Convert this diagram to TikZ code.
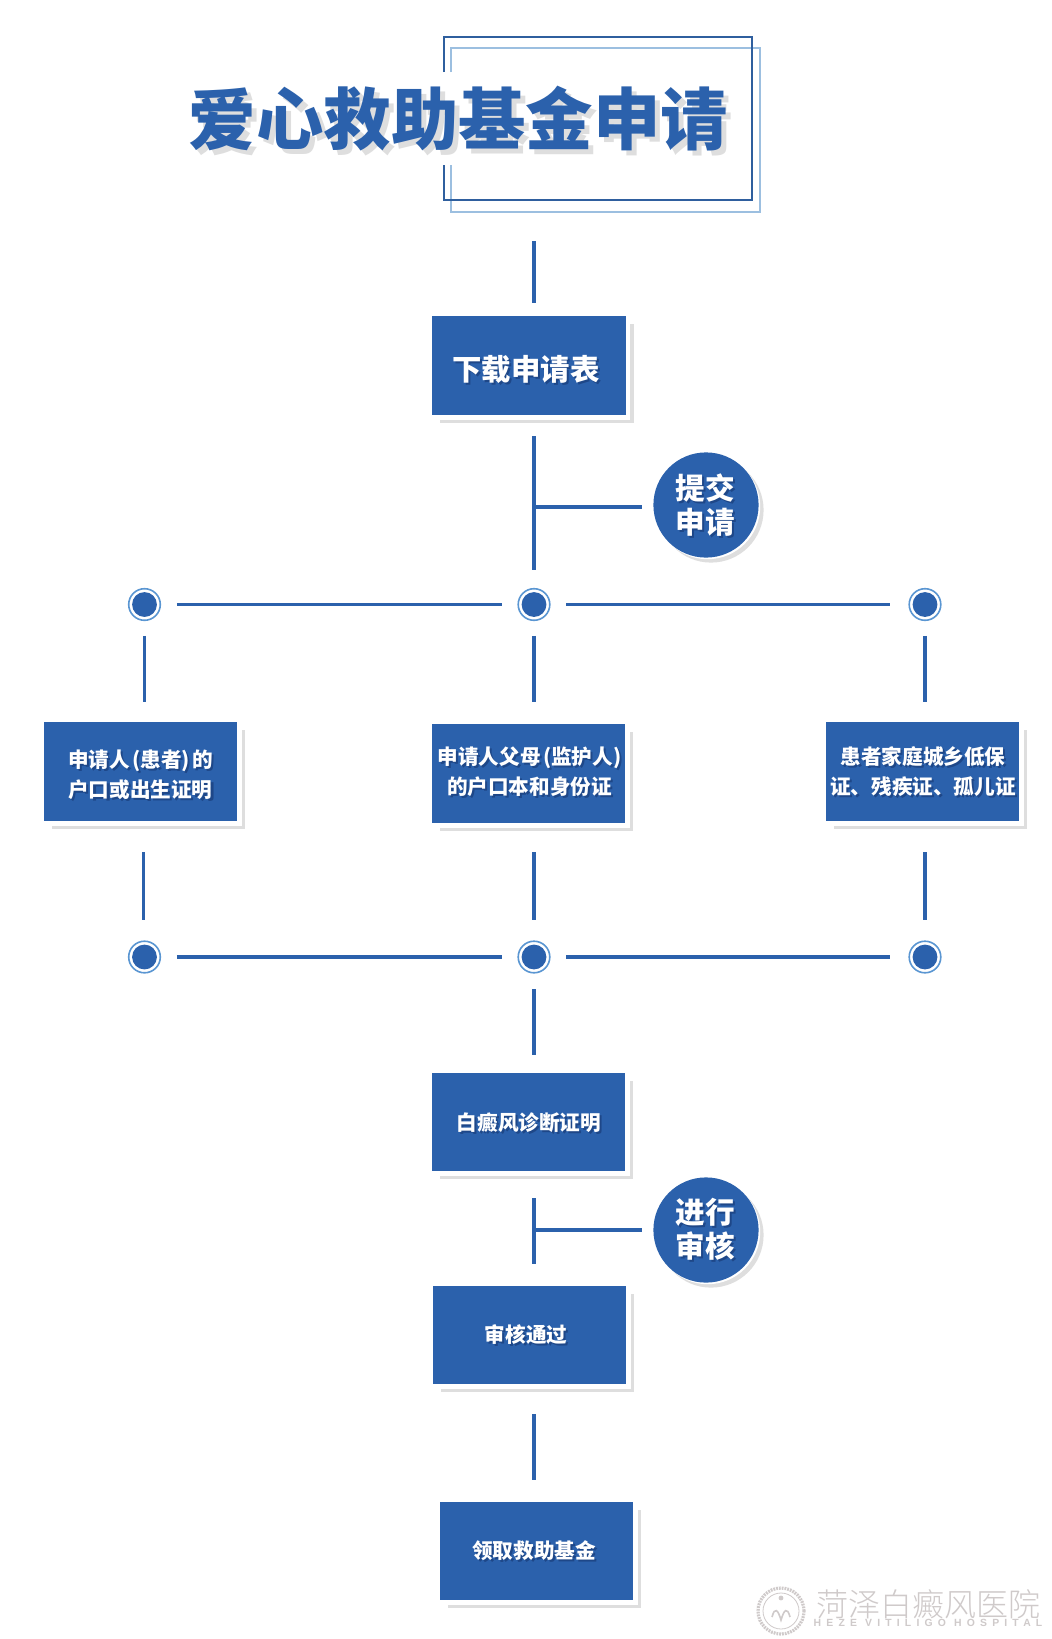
\documentclass[tikz,border=0pt]{standalone}
\usepackage{fontspec}
\newfontfamily\cjk{Noto Sans CJK SC Black}
\newfontfamily\cjkl{Noto Sans CJK SC Light}
\newfontfamily\latn[LetterSpace=50]{Liberation Sans Bold}
\definecolor{mainblue}{HTML}{2B61AC}
\definecolor{darkframe}{HTML}{2F5F9E}
\definecolor{lightframe}{HTML}{9CBFE0}
\definecolor{ringblue}{HTML}{5A96D2}
\definecolor{shadowgray}{HTML}{DEDEDE}
\definecolor{txtshadow}{HTML}{1E4788}
\definecolor{markgray}{HTML}{CFCACA}
\tikzset{
  conn/.style={draw=mainblue,line width=1.65pt},
  bluebox/.style={fill=mainblue,draw=none,inner sep=0pt,outer sep=0pt},
  dotnode/.style={circle,fill=mainblue,draw=none,minimum size=12.4pt,inner sep=0pt,outer sep=0pt},
  ringnode/.style={circle,draw=ringblue,line width=0.8pt,fill=white,minimum size=15.8pt,inner sep=0pt,outer sep=0pt},
  bignode/.style={circle,fill=mainblue,draw=none,minimum size=52.6pt,inner sep=0pt,outer sep=0pt},
  txt/.style={inner sep=0pt,align=center,text=white,font=\cjk},
  txts/.style={inner sep=0pt,align=center,text=txtshadow,font=\cjk},
}
% name, x0, y0, x1, y1
\newcommand{\bbox}[5]{%
  \draw[shadowgray,line width=1.8pt] (#4+6.5,#3+8) -- (#4+6.5,#5+6.5) -- (#2+8,#5+6.5);
  \pgfmathsetmacro\bw{(#4-#2)*0.5}\pgfmathsetmacro\bh{(#5-#3)*0.5}
  \node[bluebox,minimum width=\bw pt,minimum height=\bh pt] (#1) at ({(#2+#4)/2},{(#3+#5)/2}) {};
}
% name, x, y, size, text
\newcommand{\stxt}[5]{%
  \node[txts,font=\fontsize{#4}{15pt}\cjk\selectfont] (#1s) at (#2+2,#3+2) {#5};
  \node[txt,font=\fontsize{#4}{15pt}\cjk\selectfont] (#1) at (#2,#3) {#5};
}
\newcommand{\ctxt}[4]{%
  \node[txts,font=\fontsize{14.8pt}{17.25pt}\cjk\selectfont] (#1s) at (#2+2,#3+2) {#4};
  \node[txt,font=\fontsize{14.8pt}{17.25pt}\cjk\selectfont] (#1) at (#2,#3) {#4};
}
% name, x, y
\newcommand{\dotn}[3]{%
  \node[ringnode] (#1r) at (#2,#3) {};
  \node[dotnode] (#1) at (#2,#3) {};
}
% name, x, y
\newcommand{\bign}[3]{%
  \fill[shadowgray] (#2+5,#3+5) circle (26.3pt);
  \fill[white] (#2+1.6,#3+1.6) circle (26.3pt);
  \node[bignode] (#1) at (#2,#3) {};
}
\newcommand{\titletext}{爱心救助基金申请}
\newcommand{\pk}{\hspace{1.2pt}}
\begin{document}
\begin{tikzpicture}[x=0.5pt,y=-0.5pt]
\useasboundingbox[fill=white] (0,0) rectangle (1052,1639);
% title frames
\draw[lightframe,line width=1pt] (451,72) -- (451,47.7) -- (759.5,47.7) -- (759.5,212) -- (451,212) -- (451,165);
\draw[darkframe,line width=1pt] (443.5,72) -- (443.5,37) -- (752,37) -- (752,200) -- (443.5,200) -- (443.5,165);
\node[inner sep=0pt,text=mainblue,font=\fontsize{33.7pt}{34pt}\cjk] (title) at (458.5,121.5)
  {\makebox[0pt][l]{\hspace{2.5pt}\raisebox{-2.5pt}{\textcolor{shadowgray}{\titletext}}}\titletext};
\coordinate (framebot) at (534,212);

% boxes
\bbox{download}{432}{316}{625.5}{415}
\bbox{boxa}{44}{722}{237}{821}
\bbox{boxb}{432}{724}{625}{823}
\bbox{boxc}{825.5}{722}{1019}{821}
\bbox{diag}{432}{1073}{625}{1171}
\bbox{pass}{433}{1286}{626}{1384}
\bbox{fund}{439.5}{1502}{633}{1600}
\bign{submit}{706}{505}
\bign{review}{706}{1230}

% dots
\dotn{da}{144.5}{604.5}
\dotn{db}{534}{604.5}
\dotn{dc}{925}{604.5}
\dotn{ea}{144.5}{957}
\dotn{eb}{534}{957}
\dotn{ec}{925}{957}

% connectors
\draw[conn,shorten <=14.5pt,shorten >=6.5pt] (framebot) -- (download.north -| framebot);
\draw[conn,shorten <=10.5pt,shorten >=11pt] (download.south -| db) -- (db);
\draw[conn,shorten >=5.5pt,transform canvas={yshift=-1pt}] (db |- submit) -- (submit);
\draw[conn,shorten <=10pt,shorten >=10pt] (da) -- (db);
\draw[conn,shorten <=10pt,shorten >=11.5pt] (db) -- (dc);
\draw[conn,shorten <=9.5pt,shorten >=10pt] (da) -- (boxa.north -| da);
\draw[conn,shorten <=9.5pt,shorten >=11pt] (db) -- (boxb.north -| db);
\draw[conn,shorten <=9.5pt,shorten >=10pt] (dc) -- (boxc.north -| dc);
\draw[conn,shorten <=15.5pt,shorten >=12.5pt,transform canvas={xshift=-0.5pt}] (boxa.south -| ea) -- (ea);
\draw[conn,shorten <=14.5pt,shorten >=12.5pt] (boxb.south -| eb) -- (eb);
\draw[conn,shorten <=15.5pt,shorten >=12.5pt] (boxc.south -| ec) -- (ec);
\draw[conn,shorten <=10pt,shorten >=10pt] (ea) -- (eb);
\draw[conn,shorten <=10pt,shorten >=11.5pt] (eb) -- (ec);
\draw[conn,shorten <=10pt,shorten >=9pt] (eb) -- (diag.north -| eb);
\draw[conn,shorten <=13.5pt,shorten >=11pt] (diag.south -| eb) -- (pass.north -| eb);
\draw[conn,shorten >=5.5pt] (eb |- review) -- (review);
\draw[conn,shorten <=15pt,shorten >=11pt] (pass.south -| eb) -- (fund.north -| eb);

% text
\stxt{t1}{526}{369}{14.7pt}{下载申请表}
\stxt{t2}{140.5}{775}{10.3pt}{申请人\pk{}(患者)\pk{}的\\户口或出生证明}
\stxt{t3}{529.5}{772}{10.3pt}{申请人父母\pk{}(监护人)\\的户口本和身份证}
\stxt{t4}{923}{772}{10.3pt}{患者家庭城乡低保\\证、残疾证、孤儿证}
\stxt{t5}{529}{1123}{10.3pt}{白癜风诊断证明}
\stxt{t6}{526}{1335}{10.3pt}{审核通过}
\stxt{t7}{534}{1551}{10.3pt}{领取救助基金}
\ctxt{t8}{705.5}{505}{提交\\申请}
\ctxt{t9}{705.5}{1229}{进行\\审核}

% watermark
\draw[markgray,line width=1.6pt,dash pattern=on 0.9pt off 0.5pt] (781,1611) circle (11.5pt);
\draw[markgray,line width=0.4pt] (781,1611) circle (9pt);
\draw[markgray,line width=0.8pt] (772,1617) .. controls (775,1606) and (778,1610) .. (781,1620) .. controls (784,1610) and (787,1606) .. (790,1617);
\fill[markgray] (781,1598) circle (1.2pt);
\node[inner sep=0pt,text=markgray,font=\fontsize{16pt}{16pt}\cjkl] (wms) at (928.5,1604)
  {\makebox[0pt][l]{\hspace{-0.5pt}\raisebox{0.5pt}{\textcolor{white}{菏泽白癜风医院}}}菏泽白癜风医院};
\node[inner sep=0pt,text=markgray,font=\fontsize{5.2pt}{6pt}\latn] (wmen) at (928,1623) {HEZE VITILIGO HOSPITAL};
\end{tikzpicture}
\end{document}
